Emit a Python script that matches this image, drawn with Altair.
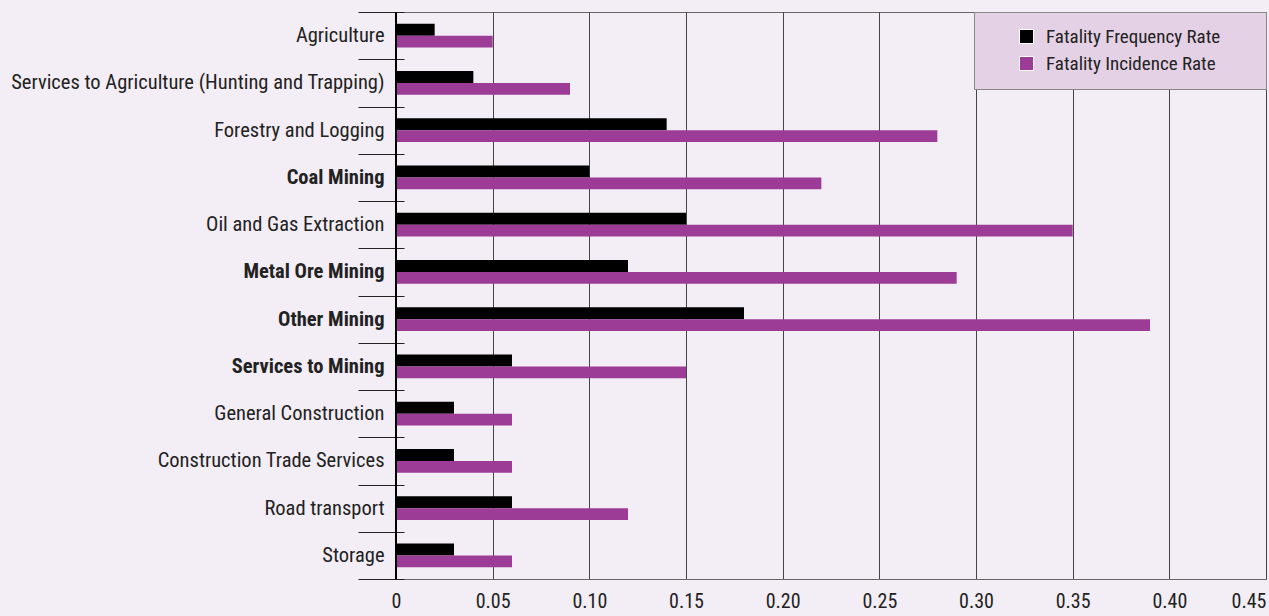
import altair as alt
import pandas as pd

# Industry categories, top to bottom
industries = [
    "Agriculture",
    "Services to Agriculture (Hunting and Trapping)",
    "Forestry and Logging",
    "Coal Mining",
    "Oil and Gas Extraction",
    "Metal Ore Mining",
    "Other Mining",
    "Services to Mining",
    "General Construction",
    "Construction Trade Services",
    "Road transport",
    "Storage",
]
frequency_rate = [0.02, 0.04, 0.14, 0.10, 0.15, 0.12, 0.18, 0.06, 0.03, 0.03, 0.06, 0.03]
incidence_rate = [0.05, 0.09, 0.28, 0.22, 0.35, 0.29, 0.39, 0.15, 0.06, 0.06, 0.12, 0.06]

series_names = ["Fatality Frequency Rate", "Fatality Incidence Rate"]
series_colors = ["#000000", "#9c3c96"]
mining_labels = ["Coal Mining", "Metal Ore Mining", "Other Mining", "Services to Mining"]
x_ticks = [0, 0.05, 0.10, 0.15, 0.20, 0.25, 0.30, 0.35, 0.40, 0.45]

rows = []
for name, f, i in zip(industries, frequency_rate, incidence_rate):
    rows.append({"industry": name, "series": series_names[0], "rate": f})
    rows.append({"industry": name, "series": series_names[1], "rate": i})
df = pd.DataFrame(rows)

FONT = "Roboto Condensed, Roboto, sans-serif"
TEXT = "#222222"
bold_expr = "indexof(" + str(mining_labels) + ", datum.value) >= 0 ? 'bold' : 'normal'"
# trailing blank room inside the legend box (zero-width char keeps it from being trimmed)
pad = "\u00a0" * 7 + "\u200b"

x_enc = alt.X(
    "rate:Q",
    scale=alt.Scale(domain=[0, 0.45], nice=False, zero=True),
    axis=alt.Axis(
        values=x_ticks,
        title=None,
        ticks=False,
        grid=True,
        gridColor="#444444",
        gridWidth=1,
        domainColor="#666666",
        labelExpr="datum.value == 0 ? '0' : format(datum.value, '.2f')",
        labelAlign=alt.expr("datum.value >= 0.449 ? 'right' : 'center'"),
        labelPadding=12,
        labelFontSize=20,
        labelFont=FONT,
        labelColor=TEXT,
    ),
)

y_enc = alt.Y(
    "industry:N",
    sort=industries,
    scale=alt.Scale(paddingInner=0, paddingOuter=0),
    axis=alt.Axis(
        title=None,
        domain=False,
        offset=-8,
        tickBand="extent",
        tickSize=46,
        tickColor=TEXT,
        tickWidth=1,
        labelPadding=-26,
        labelFontSize=20.5,
        labelFont=FONT,
        labelColor=TEXT,
        labelLimit=600,
        labelFontWeight=alt.expr(bold_expr),
    ),
)

bars = alt.Chart(df).mark_bar().encode(
    x=x_enc,
    y=y_enc,
    yOffset=alt.YOffset(
        "series:N",
        sort=series_names,
        scale=alt.Scale(paddingInner=0, paddingOuter=0.97),
    ),
    color=alt.Color(
        "series:N",
        scale=alt.Scale(domain=series_names, range=series_colors),
        legend=alt.Legend(
            title=None,
            orient="top-right",
            offset=0,
            fillColor="#e5d1e5",
            strokeColor="#888888",
            padding=15,
            rowPadding=7,
            symbolType="square",
            symbolSize=196,
            symbolStrokeColor="white",
            symbolStrokeWidth=1,
            symbolOffset=28,
            labelOffset=10,
            labelFontSize=19,
            labelFont=FONT,
            labelColor=TEXT,
            labelLimit=600,
            labelExpr="datum.label + '" + pad + "'",
        ),
    ),
)

# vertical axis line at zero
zero_line = alt.Chart(df).mark_rule(color="black", strokeWidth=1.2).encode(x=alt.datum(0))

chart = (
    alt.layer(bars, zero_line)
    .properties(
        width=870,
        height=567,
        autosize=alt.AutoSizeParams(type="none"),
        padding={"left": 396, "top": 12, "right": 3, "bottom": 37},
    )
    .configure(background="#f3edf5")
    .configure_view(stroke="#666666", strokeWidth=1)
)

chart.save("out.html", embed_options={"renderer": "svg", "actions": False})
